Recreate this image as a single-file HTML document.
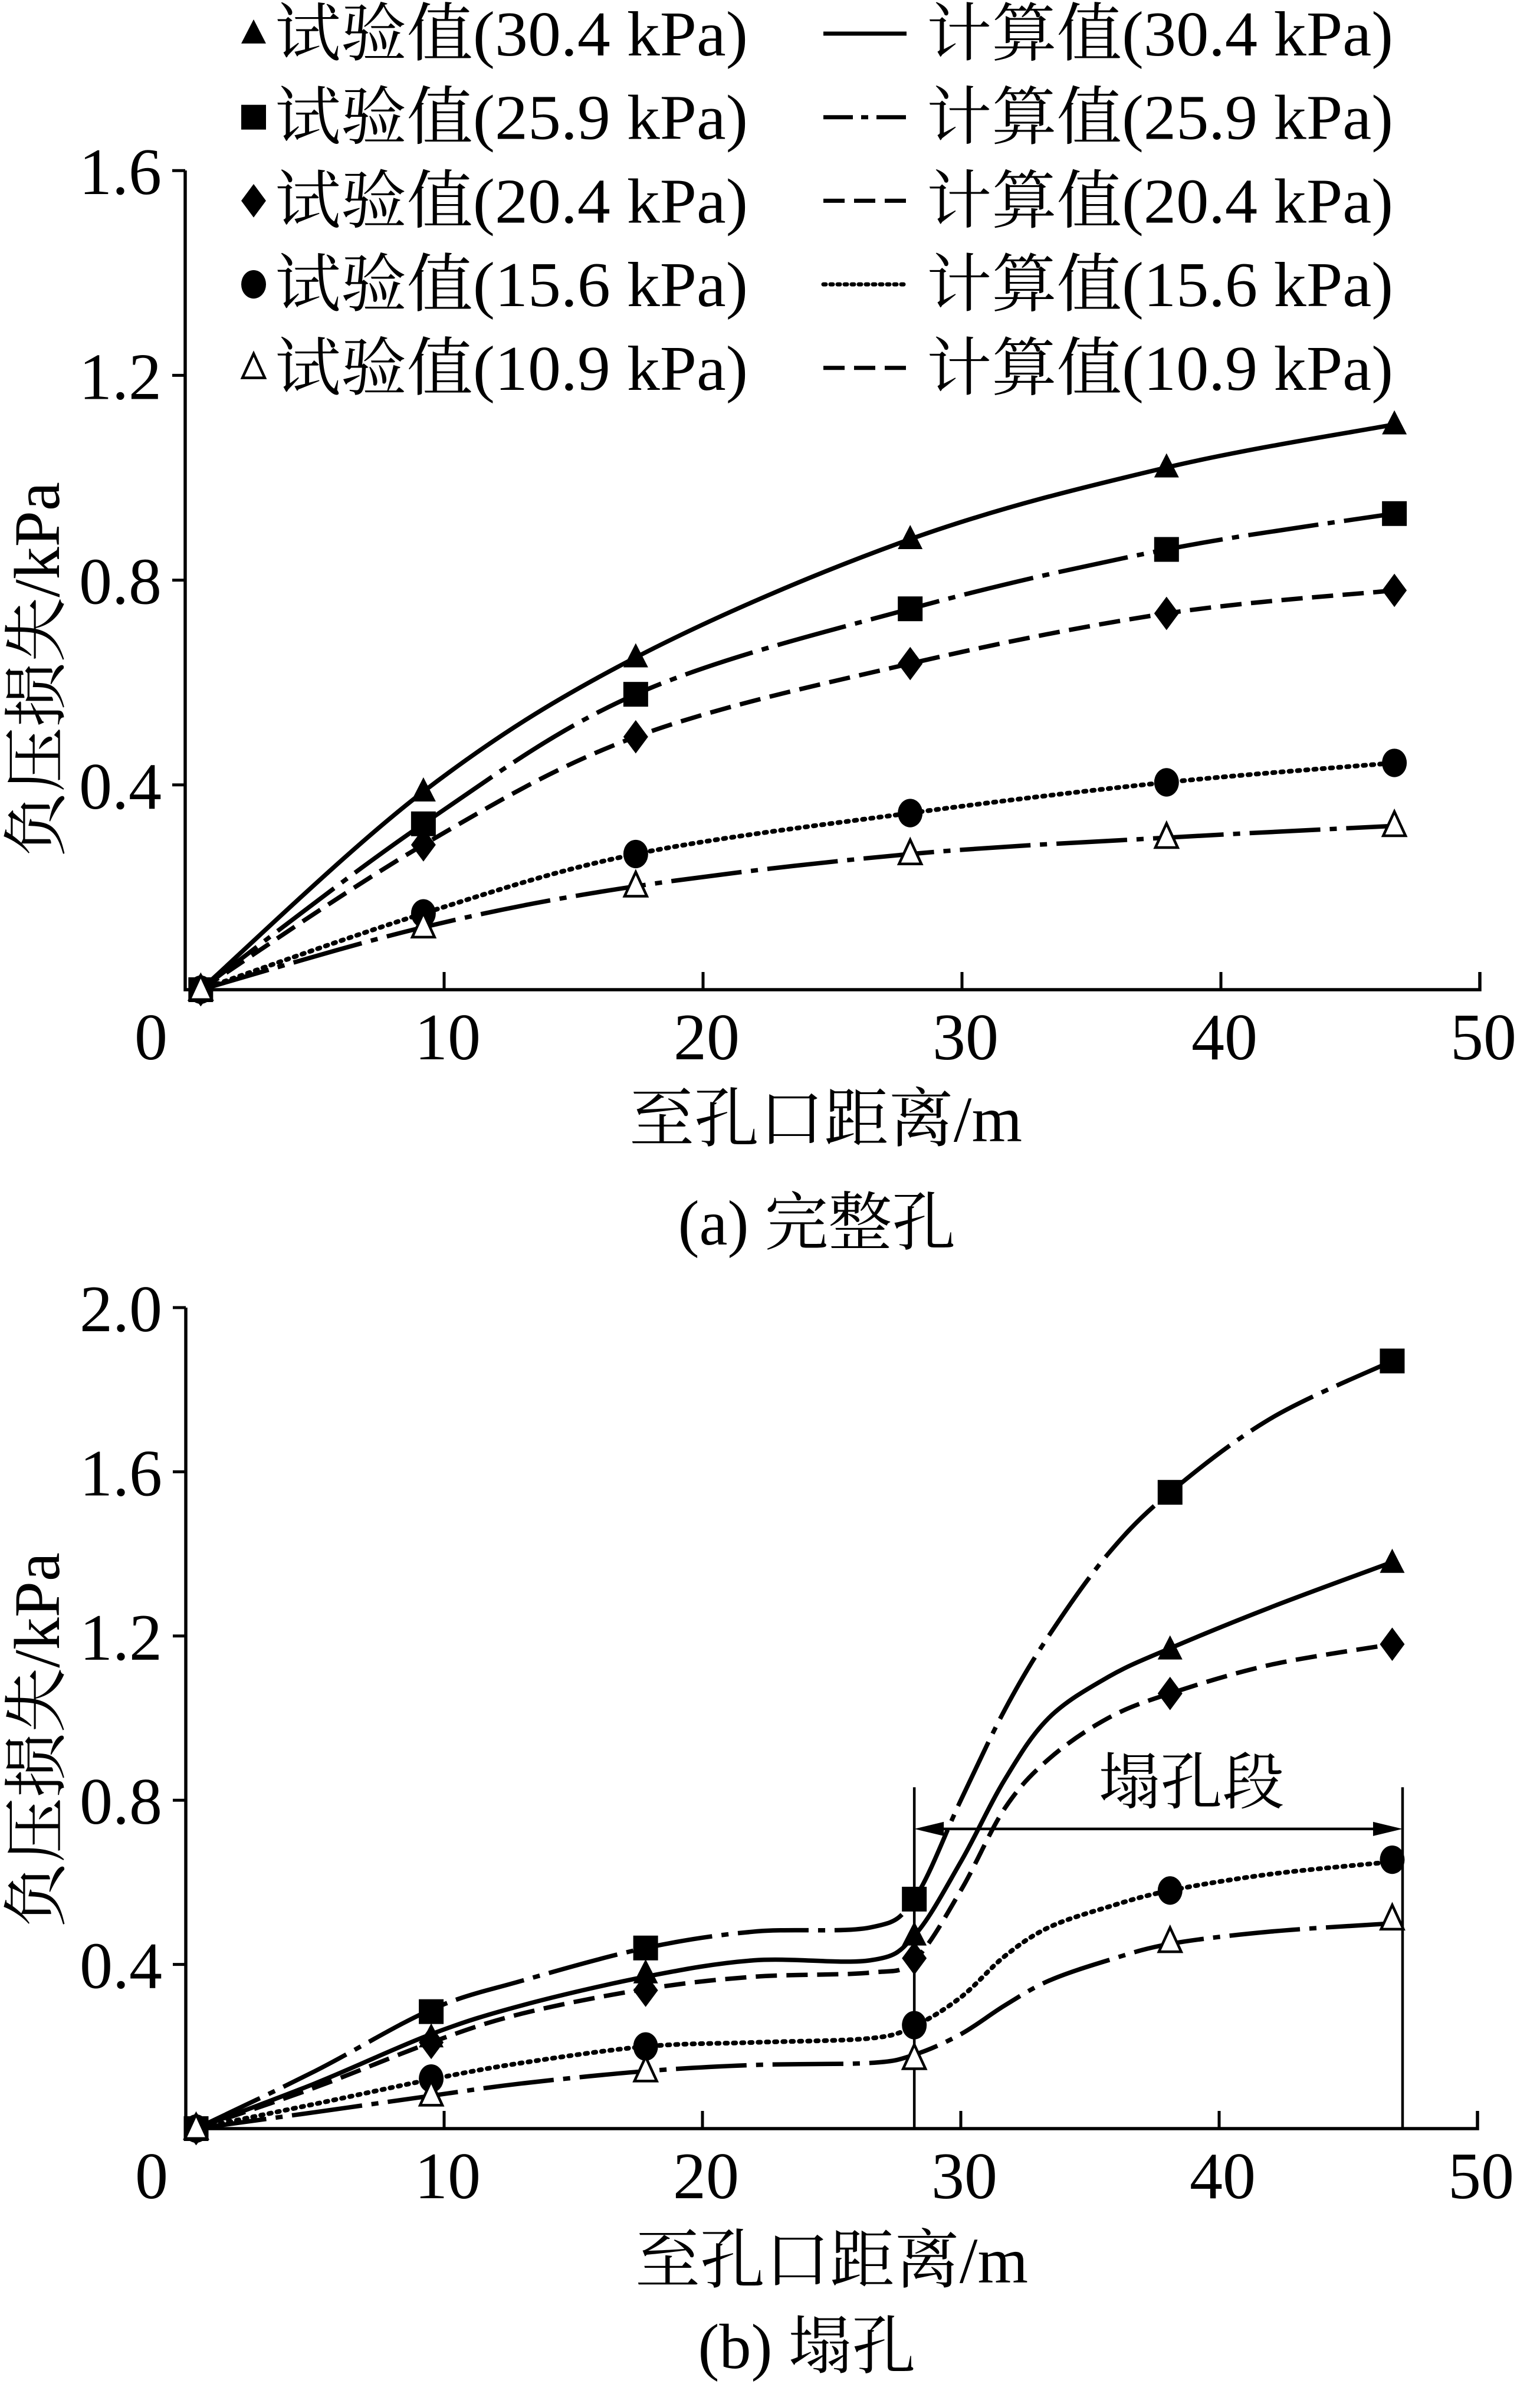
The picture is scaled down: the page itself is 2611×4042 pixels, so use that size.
<!DOCTYPE html>
<html><head><meta charset="utf-8">
<style>
html,body{margin:0;padding:0;background:#fff;}
svg{display:block;}
text{font-family:"Liberation Serif","Noto Serif CJK SC","Noto Sans CJK SC",serif;fill:#000;}
</style></head>
<body>
<svg id="fig" width="2611" height="4042" viewBox="0 0 2611 4042" xmlns="http://www.w3.org/2000/svg">
<g id="legend"></g>
<g id="chartA"></g>
<g id="chartB"></g>
</svg>
<script>
// ---- data: chart (a) ----
const xA = [0.6, 9.2, 17.4, 28.0, 37.9, 46.7];
const a304 = [0, 0.387, 0.649, 0.88, 1.02, 1.104];
const a259 = [0, 0.324, 0.577, 0.744, 0.86, 0.93];
const a204 = [0, 0.283, 0.494, 0.637, 0.735, 0.78];
const a156 = [0, 0.149, 0.265, 0.345, 0.405, 0.443];
const a109 = [0, 0.122, 0.202, 0.265, 0.297, 0.32];
// ---- data: chart (b) measured ----
const xB = [0.4, 9.5, 17.8, 28.2, 38.1, 46.7];
const b304 = [0, 0.222, 0.378, 0.47, 1.167, 1.378];
const b259 = [0, 0.285, 0.44, 0.559, 1.55, 1.87];
const b204 = [0, 0.21, 0.337, 0.415, 1.06, 1.18];
const b156 = [0, 0.122, 0.2, 0.252, 0.58, 0.655];
const b109 = [0, 0.081, 0.14, 0.17, 0.455, 0.51];
// ---- data: chart (b) calculated curves ----
const xBc = [0.4, 5, 9.5, 13, 17.8, 22, 26.5, 28.2, 30.0, 31.7, 33.4, 35.7, 38.1, 42, 46.7];
const c259 = [0, 0.14, 0.29, 0.36, 0.44, 0.48, 0.49, 0.56, 0.8, 1.02, 1.2, 1.4, 1.55, 1.73, 1.87];
const c304 = [0, 0.11, 0.23, 0.30, 0.37, 0.41, 0.41, 0.47, 0.65, 0.85, 1.0, 1.1, 1.17, 1.27, 1.38];
const c204 = [0, 0.10, 0.21, 0.28, 0.34, 0.37, 0.38, 0.41, 0.58, 0.78, 0.9, 1.0, 1.06, 1.13, 1.18];
const c156 = [0, 0.06, 0.12, 0.16, 0.20, 0.21, 0.22, 0.25, 0.32, 0.42, 0.49, 0.54, 0.58, 0.62, 0.65];
const c109 = [0, 0.04, 0.08, 0.11, 0.14, 0.155, 0.16, 0.18, 0.23, 0.30, 0.36, 0.41, 0.45, 0.48, 0.50];
const xTicks = [0, 10, 20, 30, 40, 50];
const yTicksA = [0.4, 0.8, 1.2, 1.6];
const yTicksALabels = ["0.4", "0.8", "1.2", "1.6"];
const yTicksB = [0.4, 0.8, 1.2, 1.6, 2.0];
const yTicksBLabels = ["0.4", "0.8", "1.2", "1.6", "2.0"];
const legendPressures = ["30.4", "25.9", "20.4", "15.6", "10.9"];
const collapseStart = 28.2, collapseEnd = 47.1;

const NS = "http://www.w3.org/2000/svg";
function el(tag, attrs, parent, txt){
  const e = document.createElementNS(NS, tag);
  for (const k in attrs) e.setAttribute(k, attrs[k]);
  if (txt !== undefined) e.textContent = txt;
  parent.appendChild(e); return e;
}
const styles = {
  s304: {dash: "none"},
  s259: {dash: "120 16 12 16"},
  s204: {dash: "36 16"},
  s156: {dash: "4 10", cap: "round"},
  s109: {dash: "120 16 12 16"}
};
const legendDash = ["none", "50 14 12 14", "36 16", "4 8", "36 16"];
const markers = ["tri", "sq", "dia", "cir", "otri"];
function marker(g, kind, cx, cy, name){
  let m;
  const s = 21;
  if (kind === "tri") m = el("polygon", {points:`${cx},${cy-s*1.15} ${cx-s},${cy+s*0.8} ${cx+s},${cy+s*0.8}`, fill:"#000"}, g);
  else if (kind === "sq") m = el("rect", {x:cx-s, y:cy-s, width:2*s, height:2*s, fill:"#000"}, g);
  else if (kind === "dia") m = el("polygon", {points:`${cx},${cy-s*1.35} ${cx+s},${cy} ${cx},${cy+s*1.35} ${cx-s},${cy}`, fill:"#000"}, g);
  else if (kind === "cir") m = el("ellipse", {cx:cx, cy:cy, rx:s, ry:s*1.15, fill:"#000"}, g);
  else m = el("polygon", {points:`${cx},${cy-s*1.15} ${cx-s*0.9},${cy+s*0.8} ${cx+s*0.9},${cy+s*0.8}`, fill:"#fff", stroke:"#000", "stroke-width":4.5}, g);
  
  
}
function smoothPath(pts){
  let d = `M${pts[0][0]},${pts[0][1]}`;
  for (let i = 0; i < pts.length - 1; i++){
    const p0 = pts[Math.max(0, i-1)], p1 = pts[i], p2 = pts[i+1], p3 = pts[Math.min(pts.length-1, i+2)];
    const c1x = p1[0] + (p2[0]-p0[0])/6, c1y = p1[1] + (p2[1]-p0[1])/6;
    const c2x = p2[0] - (p3[0]-p1[0])/6, c2y = p2[1] - (p3[1]-p1[1])/6;
    d += ` C${c1x},${c1y} ${c2x},${c2y} ${p2[0]},${p2[1]}`;
  }
  return d;
}
function axes(g, X, Y, yTicks, yLabels, ymaxPix, prefix){
  const x0 = X(0), y0 = Y(0);
  const ax = el("path", {d:`M${x0},${ymaxPix} L${x0},${y0} L${X(50)},${y0} L${X(50)},${y0-30}`, fill:"none", stroke:"#000", "stroke-width":5.5}, g);
  
  
  xTicks.forEach(t => {
    if (t > 0 && t < 50) {
      const tk = el("line", {x1:X(t), x2:X(t), y1:y0, y2:y0-30, stroke:"#000", "stroke-width":5}, g);
      
      
    }
    const lb = el("text", {x: t===0 ? x0-58 : X(t)+6, y:y0+118, "font-size":112, "text-anchor":"middle"}, g, String(t));
    
    
  });
  yTicks.forEach((t, i) => {
    const tk = el("line", {x1:x0-22, x2:x0, y1:Y(t), y2:Y(t), stroke:"#000", "stroke-width":5}, g);
    
    
    const lb = el("text", {x:x0-40, y:Y(t)+40, "font-size":112, "text-anchor":"end"}, g, yLabels[i]);
    
    
  });
}
function curve(g, xs, ys, X, Y, st, name){
  const pts = xs.map((x, i) => [X(x), Y(ys[i])]);
  const p = el("path", {d:smoothPath(pts), fill:"none", stroke:"#000", "stroke-width": st.cap ? 8 : 7.5,
    "stroke-dasharray":st.dash, "stroke-linecap":st.cap || "butt"}, g);
  
  
}
function pointsOf(g, xs, ys, X, Y, kind, name){
  xs.forEach((x, i) => marker(g, kind, X(x), Y(ys[i]), name));
}

// ---- chart A ----
(function(){
  const g = document.getElementById("chartA");
  const X = v => 314 + v * 43.9;
  const Y = v => 1678 - v * 868;
  axes(g, X, Y, yTicksA, yTicksALabels, 289, "chart-a");
  const series = [a304, a259, a204, a156, a109];
  const st = [styles.s304, styles.s259, styles.s204, styles.s156, styles.s109];
  series.forEach((s, i) => curve(g, xA, s, X, Y, st[i], "chart-a-calc-" + legendPressures[i]));
  series.forEach((s, i) => pointsOf(g, xA, s, X, Y, markers[i], "chart-a-test-" + legendPressures[i]));
  let t = el("text", {x:0, y:0, "font-size":110, "text-anchor":"middle", transform:"translate(100,1135) rotate(-90)"}, g, "负压损失/kPa");
   
  t = el("text", {x:1400, y:1935, "font-size":110, "text-anchor":"middle"}, g, "至孔口距离/m");
   
  t = el("text", {x:1385, y:2110, "font-size":108, "text-anchor":"middle"}, g, "(a) 完整孔");
   
})();

// ---- chart B ----
(function(){
  const g = document.getElementById("chartB");
  const X = v => 315 + v * 43.8;
  const Y = v => 3609 - v * 696;
  axes(g, X, Y, yTicksB, yTicksBLabels, 2217, "chart-b");
  [collapseStart, collapseEnd].forEach(v => {
    const l = el("line", {x1:X(v), x2:X(v), y1:Y(0), y2:Y(0.82)-8, stroke:"#000", "stroke-width":4.5}, g);
     
  });
  const ay = Y(0.73);
  let a = el("line", {x1:X(collapseStart)+40, x2:X(collapseEnd)-40, y1:ay, y2:ay, stroke:"#000", "stroke-width":4.5}, g);
   
  a = el("polygon", {points:`${X(collapseStart)},${ay} ${X(collapseStart)+50},${ay-12} ${X(collapseStart)+50},${ay+12}`, fill:"#000"}, g);
   
  a = el("polygon", {points:`${X(collapseEnd)},${ay} ${X(collapseEnd)-50},${ay-12} ${X(collapseEnd)-50},${ay+12}`, fill:"#000"}, g);
   
  let t = el("text", {x:2020, y:3058, "font-size":105, "text-anchor":"middle"}, g, "塌孔段");
   
  const calc = [c304, c259, c204, c156, c109];
  const meas = [b304, b259, b204, b156, b109];
  const st = [styles.s304, styles.s259, styles.s204, styles.s156, styles.s109];
  calc.forEach((s, i) => curve(g, xBc, s, X, Y, st[i], "chart-b-calc-" + legendPressures[i]));
  meas.forEach((s, i) => pointsOf(g, xB, s, X, Y, markers[i], "chart-b-test-" + legendPressures[i]));
  t = el("text", {x:0, y:0, "font-size":110, "text-anchor":"middle", transform:"translate(100,2950) rotate(-90)"}, g, "负压损失/kPa");
   
  t = el("text", {x:1410, y:3870, "font-size":110, "text-anchor":"middle"}, g, "至孔口距离/m");
   
  t = el("text", {x:1368, y:4015, "font-size":108, "text-anchor":"middle"}, g, "(b) 塌孔");
   
})();

// ---- legend ----
(function(){
  const g = document.getElementById("legend");
  legendPressures.forEach((p, i) => {
    const cy = 57 + i * 141.7;
    marker(g, markers[i], 430, cy, "legend-marker-" + p);
    let t = el("text", {x:466, y:cy+37, "font-size":108, textLength:802, lengthAdjust:"spacingAndGlyphs"}, g, `试验值(${p} kPa)`);
     
    const l = el("line", {x1:1396, x2:1537, y1:cy, y2:cy, stroke:"#000", "stroke-width":7,
      "stroke-dasharray": legendDash[i], "stroke-linecap": i===3 ? "round" : "butt"}, g);
     
    t = el("text", {x:1571, y:cy+37, "font-size":108, textLength:791, lengthAdjust:"spacingAndGlyphs"}, g, `计算值(${p} kPa)`);
     
  });
})();
</script>
</body></html>
